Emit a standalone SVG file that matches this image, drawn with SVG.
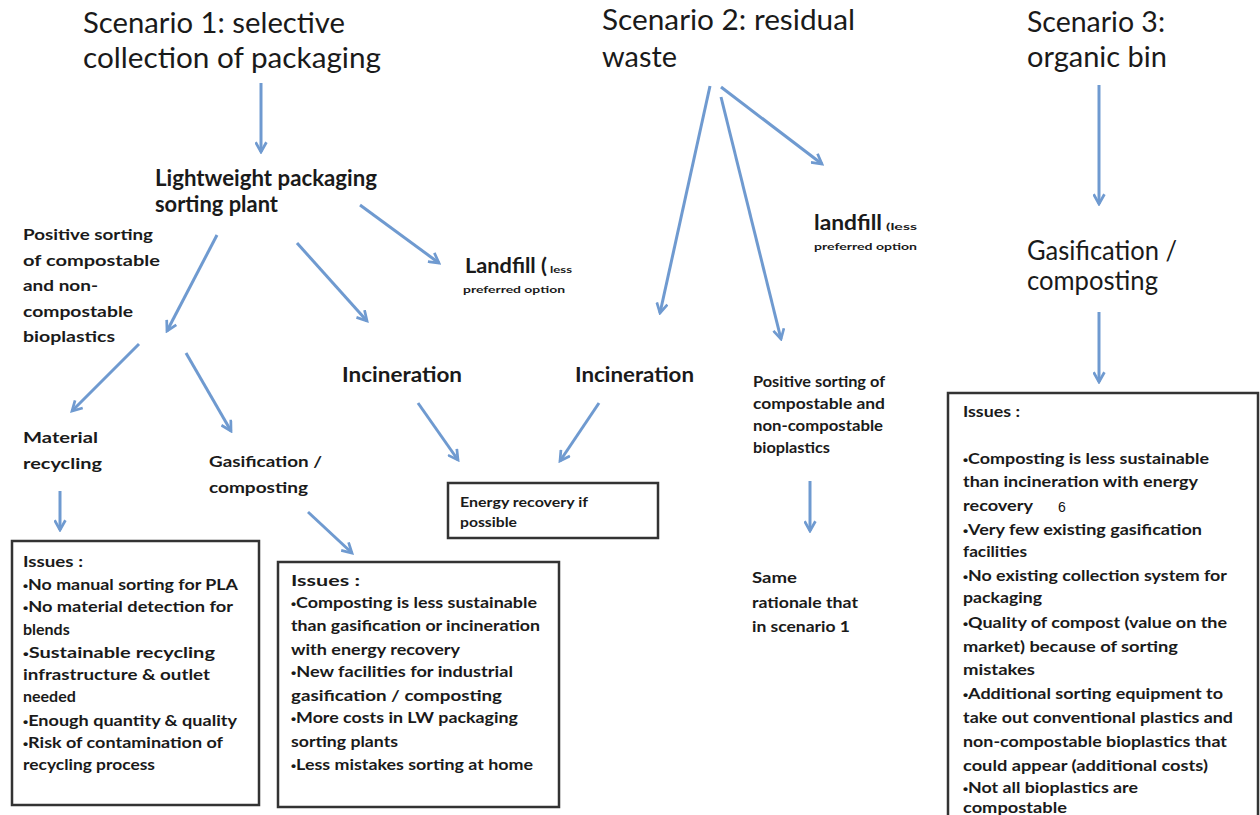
<svg xmlns="http://www.w3.org/2000/svg" width="1260" height="815" viewBox="0 0 1260 815">
<style>
.t{font-family:Lato,"Liberation Sans",sans-serif;fill:#1a1a1a}
.title{font-size:28px}
.b{font-weight:bold}
.box{fill:#fff;stroke:#333;stroke-width:2.5}
.c{stroke:#6f9ad0;stroke-width:3;fill:none;marker-end:url(#ah)}
.bx{font-size:16px;font-weight:bold}
.bl{font-family:"Liberation Sans",sans-serif;font-size:13px}
</style>
<defs>
<marker id="ah" viewBox="0 0 12 12" refX="10" refY="6" markerWidth="13" markerHeight="13" markerUnits="userSpaceOnUse" orient="auto">
<path d="M1,1 L10,6 L1,11" fill="none" stroke="#6f9ad0" stroke-width="2.5"/>
</marker>
</defs>
<rect width="1260" height="815" fill="#fff"/>

<g id="connectors">
<line class="c" x1="261" y1="83" x2="261" y2="152"/>
<line class="c" x1="217" y1="235" x2="167" y2="331"/>
<line class="c" x1="297" y1="243" x2="367" y2="321"/>
<line class="c" x1="360" y1="205" x2="439" y2="263"/>
<line class="c" x1="139" y1="344" x2="72" y2="411"/>
<line class="c" x1="186" y1="353" x2="231" y2="431"/>
<line class="c" x1="60" y1="491" x2="60" y2="530"/>
<line class="c" x1="308" y1="512" x2="352" y2="553"/>
<line class="c" x1="418" y1="403" x2="458" y2="460"/>
<line class="c" x1="599" y1="403" x2="560" y2="461"/>
<line class="c" x1="710" y1="86" x2="660" y2="313"/>
<line class="c" x1="721" y1="97" x2="781" y2="339"/>
<line class="c" x1="721" y1="87" x2="822" y2="164"/>
<line class="c" x1="810" y1="481" x2="810" y2="531"/>
<line class="c" x1="1099" y1="85" x2="1099" y2="204"/>
<line class="c" x1="1099" y1="312" x2="1099" y2="382"/>
</g>

<g id="scenario1">
<text class="t title" x="83" y="33" textLength="262" lengthAdjust="spacingAndGlyphs">Scenario 1: selective</text>
<text class="t title" x="83" y="68" textLength="298" lengthAdjust="spacingAndGlyphs">collection of packaging</text>
</g>

<g id="scenario2">
<text class="t title" x="602" y="30" textLength="253" lengthAdjust="spacingAndGlyphs">Scenario 2: residual</text>
<text class="t title" x="602" y="67" textLength="75" lengthAdjust="spacingAndGlyphs">waste</text>
</g>

<g id="scenario3">
<text class="t title" x="1027" y="32" textLength="138" lengthAdjust="spacingAndGlyphs">Scenario 3:</text>
<text class="t title" x="1027" y="67" textLength="140" lengthAdjust="spacingAndGlyphs">organic bin</text>
</g>

<g id="lw-plant">
<text class="t b" font-size="22" x="155" y="186" textLength="222" lengthAdjust="spacingAndGlyphs">Lightweight packaging</text>
<text class="t b" font-size="22" x="155" y="212" textLength="123" lengthAdjust="spacingAndGlyphs">sorting plant</text>
</g>

<g id="positive-sorting-1">
<text class="t b" font-size="16" x="23" y="240" textLength="130" lengthAdjust="spacingAndGlyphs">Positive sorting</text>
<text class="t b" font-size="16" x="23" y="266" textLength="137" lengthAdjust="spacingAndGlyphs">of  compostable</text>
<text class="t b" font-size="16" x="23" y="291" textLength="75" lengthAdjust="spacingAndGlyphs">and non-</text>
<text class="t b" font-size="16" x="23" y="317" textLength="110" lengthAdjust="spacingAndGlyphs">compostable</text>
<text class="t b" font-size="16" x="23" y="342" textLength="92" lengthAdjust="spacingAndGlyphs">bioplastics</text>
</g>

<g id="landfill-1">
<text class="t b" font-size="21" x="465" y="273" textLength="82" lengthAdjust="spacingAndGlyphs">Landfill (</text>
<text class="t b" font-size="9" x="550" y="273" textLength="22" lengthAdjust="spacingAndGlyphs">less</text>
<text class="t b" font-size="10" x="463" y="293" textLength="102" lengthAdjust="spacingAndGlyphs">preferred option</text>
</g>

<g id="incineration-1">
<text class="t b" font-size="21" x="342" y="382" textLength="120" lengthAdjust="spacingAndGlyphs">Incineration</text>
</g>

<g id="incineration-2">
<text class="t b" font-size="21" x="575" y="382" textLength="119" lengthAdjust="spacingAndGlyphs">Incineration</text>
</g>

<g id="material-recycling">
<text class="t b" font-size="16" x="23" y="443" textLength="75" lengthAdjust="spacingAndGlyphs">Material</text>
<text class="t b" font-size="16" x="23" y="469" textLength="79" lengthAdjust="spacingAndGlyphs">recycling</text>
</g>

<g id="gasification-1">
<text class="t b" font-size="16" x="209" y="467" textLength="113" lengthAdjust="spacingAndGlyphs">Gasification /</text>
<text class="t b" font-size="16" x="209" y="493" textLength="99" lengthAdjust="spacingAndGlyphs">composting</text>
</g>

<g id="energy-recovery">
<rect class="box" x="448" y="483" width="210" height="55"/>
<text class="t b" font-size="13" x="460" y="507" textLength="128" lengthAdjust="spacingAndGlyphs">Energy recovery if</text>
<text class="t b" font-size="13" x="460" y="527" textLength="57" lengthAdjust="spacingAndGlyphs">possible</text>
</g>

<g id="landfill-2">
<text class="t b" font-size="21" x="814" y="230" textLength="68" lengthAdjust="spacingAndGlyphs">landfill</text>
<text class="t b" font-size="9" x="886" y="230" textLength="31" lengthAdjust="spacingAndGlyphs">(less</text>
<text class="t b" font-size="10" x="814" y="250" textLength="103" lengthAdjust="spacingAndGlyphs">preferred option</text>
</g>

<g id="positive-sorting-2">
<text class="t b" font-size="15" x="753" y="387" textLength="132" lengthAdjust="spacingAndGlyphs">Positive sorting of</text>
<text class="t b" font-size="15" x="753" y="409" textLength="132" lengthAdjust="spacingAndGlyphs">compostable  and</text>
<text class="t b" font-size="15" x="753" y="431" textLength="130" lengthAdjust="spacingAndGlyphs">non-compostable</text>
<text class="t b" font-size="15" x="753" y="453" textLength="77" lengthAdjust="spacingAndGlyphs">bioplastics</text>
</g>

<g id="same-rationale">
<text class="t b" font-size="15" x="752" y="583" textLength="45" lengthAdjust="spacingAndGlyphs">Same</text>
<text class="t b" font-size="15" x="752" y="608" textLength="106" lengthAdjust="spacingAndGlyphs">rationale that</text>
<text class="t b" font-size="15" x="752" y="632" textLength="98" lengthAdjust="spacingAndGlyphs">in scenario 1</text>
</g>

<g id="gasification-3">
<text class="t" font-size="26" x="1027" y="260" textLength="150" lengthAdjust="spacingAndGlyphs">Gasification /</text>
<text class="t" font-size="26" x="1027" y="290" textLength="131" lengthAdjust="spacingAndGlyphs">composting</text>
</g>

<g id="issues-1">
<rect class="box" x="12" y="541" width="247" height="264"/>
<text class="t bx" x="23" y="567" textLength="60" lengthAdjust="spacingAndGlyphs">Issues :</text>
<text class="t bx" x="23" y="590" textLength="215" lengthAdjust="spacingAndGlyphs"><tspan class="bl">•</tspan>No manual sorting for PLA</text>
<text class="t bx" x="23" y="612" textLength="210" lengthAdjust="spacingAndGlyphs"><tspan class="bl">•</tspan>No material detection for</text>
<text class="t bx" x="23" y="635">blends</text>
<text class="t bx" x="23" y="658" textLength="192" lengthAdjust="spacingAndGlyphs"><tspan class="bl">•</tspan>Sustainable recycling</text>
<text class="t bx" x="23" y="680" textLength="187" lengthAdjust="spacingAndGlyphs">infrastructure &amp; outlet</text>
<text class="t bx" x="23" y="702">needed</text>
<text class="t bx" x="23" y="726" textLength="214" lengthAdjust="spacingAndGlyphs"><tspan class="bl">•</tspan>Enough quantity &amp; quality</text>
<text class="t bx" x="23" y="748" textLength="200" lengthAdjust="spacingAndGlyphs"><tspan class="bl">•</tspan>Risk of contamination of</text>
<text class="t bx" x="23" y="770" textLength="132" lengthAdjust="spacingAndGlyphs">recycling process</text>
</g>

<g id="issues-2">
<rect class="box" x="278" y="562" width="281" height="245"/>
<text class="t bx" x="291" y="586" textLength="69" lengthAdjust="spacingAndGlyphs">Issues :</text>
<text class="t bx" x="291" y="608" textLength="246" lengthAdjust="spacingAndGlyphs"><tspan class="bl">•</tspan>Composting is less sustainable</text>
<text class="t bx" x="291" y="631" textLength="249" lengthAdjust="spacingAndGlyphs">than gasification or incineration</text>
<text class="t bx" x="291" y="655" textLength="169" lengthAdjust="spacingAndGlyphs">with energy recovery</text>
<text class="t bx" x="291" y="677" textLength="222" lengthAdjust="spacingAndGlyphs"><tspan class="bl">•</tspan>New facilities for industrial</text>
<text class="t bx" x="291" y="701" textLength="211" lengthAdjust="spacingAndGlyphs">gasification / composting</text>
<text class="t bx" x="291" y="723" textLength="227" lengthAdjust="spacingAndGlyphs"><tspan class="bl">•</tspan>More costs in LW packaging</text>
<text class="t bx" x="291" y="747" textLength="107" lengthAdjust="spacingAndGlyphs">sorting plants</text>
<text class="t bx" x="291" y="770" textLength="242" lengthAdjust="spacingAndGlyphs"><tspan class="bl">•</tspan>Less mistakes sorting at home</text>
</g>

<g id="issues-3">
<rect class="box" x="948" y="393" width="310" height="440"/>
<text class="t bx" x="963" y="417" textLength="57" lengthAdjust="spacingAndGlyphs">Issues :</text>
<text class="t bx" x="963" y="464" textLength="246" lengthAdjust="spacingAndGlyphs"><tspan class="bl">•</tspan>Composting is less sustainable</text>
<text class="t bx" x="963" y="487" textLength="235" lengthAdjust="spacingAndGlyphs">than incineration with energy</text>
<text class="t bx" x="963" y="511" textLength="70" lengthAdjust="spacingAndGlyphs">recovery</text>
<text font-family="Liberation Sans, Arial, sans-serif" font-size="14" fill="#111" x="1058" y="512">6</text>
<text class="t bx" x="963" y="535" textLength="239" lengthAdjust="spacingAndGlyphs"><tspan class="bl">•</tspan>Very few existing gasification</text>
<text class="t bx" x="963" y="557" textLength="64" lengthAdjust="spacingAndGlyphs">facilities</text>
<text class="t bx" x="963" y="581" textLength="264" lengthAdjust="spacingAndGlyphs"><tspan class="bl">•</tspan>No existing collection system for</text>
<text class="t bx" x="963" y="603" textLength="79" lengthAdjust="spacingAndGlyphs">packaging</text>
<text class="t bx" x="963" y="628" textLength="264" lengthAdjust="spacingAndGlyphs"><tspan class="bl">•</tspan>Quality of compost (value on the</text>
<text class="t bx" x="963" y="652" textLength="215" lengthAdjust="spacingAndGlyphs">market) because of sorting</text>
<text class="t bx" x="963" y="675" textLength="72" lengthAdjust="spacingAndGlyphs">mistakes</text>
<text class="t bx" x="963" y="699" textLength="260" lengthAdjust="spacingAndGlyphs"><tspan class="bl">•</tspan>Additional sorting equipment to</text>
<text class="t bx" x="963" y="723" textLength="270" lengthAdjust="spacingAndGlyphs">take out conventional plastics and</text>
<text class="t bx" x="963" y="747" textLength="264" lengthAdjust="spacingAndGlyphs">non-compostable bioplastics that</text>
<text class="t bx" x="963" y="771" textLength="245" lengthAdjust="spacingAndGlyphs">could appear (additional costs)</text>
<text class="t bx" x="963" y="793" textLength="175" lengthAdjust="spacingAndGlyphs"><tspan class="bl">•</tspan>Not all bioplastics are</text>
<text class="t bx" x="963" y="813" textLength="104" lengthAdjust="spacingAndGlyphs">compostable</text>
</g>
</svg>
